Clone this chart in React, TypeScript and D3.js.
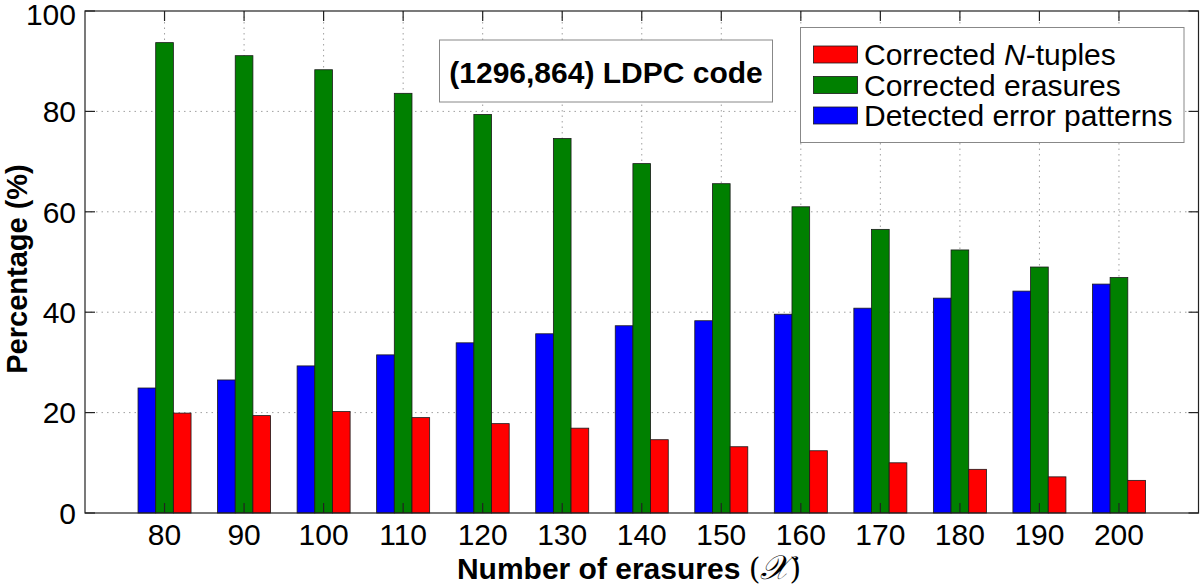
import React from "react";
import * as d3 from "d3";

const categories = [80, 90, 100, 110, 120, 130, 140, 150, 160, 170, 180, 190, 200];
const detectedPatterns = [24.9, 26.5, 29.3, 31.5, 33.9, 35.7, 37.3, 38.3, 39.6, 40.8, 42.8, 44.2, 45.6];
const correctedErasures = [93.7, 91.1, 88.3, 83.6, 79.4, 74.6, 69.6, 65.6, 61.0, 56.5, 52.4, 49.0, 46.9];
const correctedTuples = [19.9, 19.4, 20.2, 19.0, 17.8, 16.9, 14.6, 13.2, 12.4, 10.0, 8.7, 7.2, 6.5];
const yTicks = [0, 20, 40, 60, 80, 100];
const gridY = [20, 40, 60, 80];

const W = 1200;
const H = 587;
const left = 85;
const right = 1198.5;
const top = 11;
const bottom = 513;

const FONT = "'Liberation Sans', Arial, Helvetica, sans-serif";

export default function App() {
  const x = d3.scaleLinear().domain([70, 210]).range([left, right]);
  const y = d3.scaleLinear().domain([0, 100]).range([bottom, top]);
  const step = x(90) - x(80);
  const bw = step * 0.2222;

  const series = [
    { name: "Detected error patterns", values: detectedPatterns, color: "#0000ff", off: -1 },
    { name: "Corrected erasures", values: correctedErasures, color: "#008000", off: 0 },
    { name: "Corrected N-tuples", values: correctedTuples, color: "#ff0000", off: 1 },
  ];

  const tickLen = 10;
  const gridStyle = { stroke: "#a0a0a0", strokeWidth: 1, strokeDasharray: "1.5,4" };

  const legendItems = [
    { color: "#ff0000", label: "tuples" },
    { color: "#008000", label: "Corrected erasures" },
    { color: "#0000ff", label: "Detected error patterns" },
  ];

  return (
    <svg width={W} height={H} style={{ position: "absolute", left: 0, top: 0, background: "#fff" }} fontFamily={FONT}>
      <rect x={0} y={0} width={W} height={H} fill="#fff" />
      {/* grid */}
      {gridY.map((v) => (
        <line key={"gy" + v} x1={left} x2={right} y1={y(v)} y2={y(v)} {...gridStyle} />
      ))}
      {categories.map((c) => (
        <line key={"gx" + c} x1={x(c)} x2={x(c)} y1={top} y2={bottom} {...gridStyle} />
      ))}
      {/* bars */}
      {series.map((s) =>
        s.values.map((v, i) => (
          <rect
            key={s.name + i}
            x={x(categories[i]) + s.off * bw - bw / 2}
            y={y(v)}
            width={bw}
            height={y(0) - y(v)}
            fill={s.color}
            stroke="#1a1a1a"
            strokeWidth={0.8}
          />
        ))
      )}
      {/* axes box */}
      <rect x={left} y={top} width={right - left} height={bottom - top} fill="none" stroke="#222" strokeWidth={1.2} />
      {/* ticks */}
      {yTicks.map((v) => (
        <g key={"yt" + v}>
          <line x1={left} x2={left + tickLen} y1={y(v)} y2={y(v)} stroke="#222" strokeWidth={1.2} />
          <line x1={right} x2={right - tickLen} y1={y(v)} y2={y(v)} stroke="#222" strokeWidth={1.2} />
          <text x={76} y={y(v) + (v === 100 ? 3 : 0)} dy="0.36em" textAnchor="end" fontSize={30} fill="#000">
            {v}
          </text>
        </g>
      ))}
      {categories.map((c) => (
        <g key={"xt" + c}>
          <line x1={x(c)} x2={x(c)} y1={top} y2={top + tickLen} stroke="#222" strokeWidth={1.2} />
          <line x1={x(c)} x2={x(c)} y1={bottom} y2={bottom - tickLen} stroke="#222" strokeWidth={1.2} />
          <text x={x(c)} y={545} textAnchor="middle" fontSize={30} fill="#000">
            {c}
          </text>
        </g>
      ))}
      {/* axis titles */}
      <text x={629} y={579} textAnchor="middle" fontSize={30} fill="#000">
        <tspan fontWeight="bold">Number of erasures </tspan>
        <tspan fontFamily="'DejaVu Serif', serif">(</tspan>
        <tspan fontFamily="'DejaVu Serif', 'DejaVu Sans', serif" fontStyle="italic" fontSize={34}>𝒳</tspan>
        <tspan fontFamily="'DejaVu Serif', serif">)</tspan>
      </text>
      <text
        transform={`translate(27,${269}) rotate(-90)`}
        textAnchor="middle"
        fontSize={29}
        fontWeight="bold"
        fill="#000"
      >
        Percentage (%)
      </text>
      {/* title box */}
      <rect x={439.5} y={40} width={333} height={62} fill="#fff" stroke="#888" strokeWidth={1} />
      <text x={606} y={72} dy="0.36em" textAnchor="middle" fontSize={30} fontWeight="bold" fill="#000">
        (1296,864) LDPC code
      </text>
      {/* legend */}
      <rect x={800.5} y={27.5} width={383.5} height={115} fill="#fff" stroke="#888" strokeWidth={1} />
      {legendItems.map((it, i) => (
        <g key={"lg" + i}>
          <rect x={813.5} y={46 + i * 30.5} width={44} height={17} fill={it.color} stroke="#1a1a1a" strokeWidth={0.8} />
          <text x={864} y={54.5 + i * 30.5} dy="0.36em" fontSize={30} fill="#000">
            {i === 0 ? (
              <>
                <tspan>Corrected </tspan>
                <tspan fontStyle="italic">N</tspan>
                <tspan>-tuples</tspan>
              </>
            ) : (
              it.label
            )}
          </text>
        </g>
      ))}
    </svg>
  );
}
